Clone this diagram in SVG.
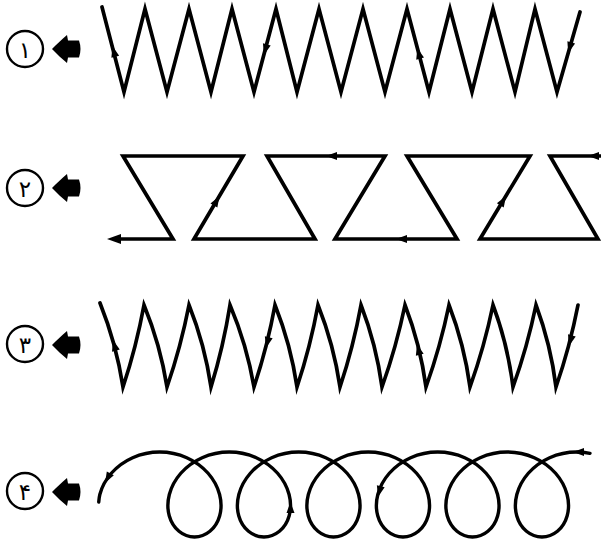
<svg xmlns="http://www.w3.org/2000/svg" xmlns:xlink="http://www.w3.org/1999/xlink" width="601" height="542" viewBox="0 0 601 542">
<style>
.ln{fill:none;stroke:#000;stroke-width:3.7;stroke-linejoin:miter;stroke-miterlimit:10;stroke-linecap:round}
.cir{fill:#fff;stroke:#000;stroke-width:2.4}
.dig{font-family:"DejaVu Sans",sans-serif;font-size:23px;text-anchor:middle;fill:#000}
</style>
<defs>
<path id="ah" d="M0,0 L-11,-4 L-11,4 Z"/>
<path id="ahb" d="M0,0 L-14,-5 L-14,5 Z"/>
<path id="blk" d="M0,0 C5,-5 10,-10 15,-14 L16,-8.5 L27,-8.5 Q30,0 27,8.5 L16,8.5 L15,14 C10,10 5,5 0,0 Z"/>
</defs>
<rect width="601" height="542" fill="#fff"/>

<g id="label-1">
<circle class="cir" cx="25" cy="49" r="18"/>
<text class="dig" x="25" y="57.5">۱</text>
<use xlink:href="#blk" transform="translate(52,49)"/>
</g>
<g id="label-2">
<circle class="cir" cx="25" cy="188" r="18"/>
<text class="dig" x="25" y="196.5">۲</text>
<use xlink:href="#blk" transform="translate(52,188)"/>
</g>
<g id="label-3">
<circle class="cir" cx="25" cy="344" r="18"/>
<text class="dig" x="25" y="352.5">۳</text>
<use xlink:href="#blk" transform="translate(52,345)"/>
</g>
<g id="label-4">
<circle class="cir" cx="25" cy="491" r="18"/>
<text class="dig" x="25" y="499.5">۴</text>
<use xlink:href="#blk" transform="translate(52,492)"/>
</g>

<g id="connectors">
<g id="pattern-1">
<path class="ln" d="M580,12 L557,92 L535,9 L515,92 L493,9 L472,92 L450,9 L429,92 L407,9 L385,92 L363,9 L341,92 L319,9 L297,92 L276,9 L254,92 L232,9 L211,92 L189,9 L167,92 L145,9 L124,92 L102,7"/>
<use xlink:href="#ah" transform="translate(112.5,46) rotate(-104.5)"/>
<use xlink:href="#ah" transform="translate(264,55) rotate(104.8)"/>
<use xlink:href="#ah" transform="translate(417.3,48) rotate(-104.8)"/>
<use xlink:href="#ah" transform="translate(568.2,53) rotate(106)"/>
</g>
<g id="pattern-2">
<path class="ln" d="M600,156 L550,156 L598,239 L480,239 L530,156 L407,156 L457,239 L335,239 L385,156 L267,156 L315,239 L194,239 L243,156 L123,156 L173,239 L118,239"/>
<use xlink:href="#ahb" transform="translate(107,239) rotate(180)"/>
<use xlink:href="#ah" transform="translate(588,156) rotate(180)"/>
<use xlink:href="#ah" transform="translate(506,196) rotate(-58.9)"/>
<use xlink:href="#ah" transform="translate(396,239) rotate(180)"/>
<use xlink:href="#ah" transform="translate(326,156) rotate(180)"/>
<use xlink:href="#ah" transform="translate(219.5,196) rotate(-59.4)"/>
</g>
<g id="pattern-3">
<path class="ln" d="M578,305 Q569.9,346.7 556,387 Q550.8,344.7 536,305 Q527.4,346.7 513,387 Q507.8,344.7 493,305 Q484.4,346.7 470,387 Q464.3,344.7 449,305 Q440.4,346.7 426,387 Q420.3,344.7 405,305 Q396.4,346.7 382,387 Q376.3,344.7 361,305 Q353.4,346.7 340,387 Q333.8,344.7 318,305 Q310.4,346.7 297,387 Q290.8,344.7 275,305 Q267.4,346.7 254,387 Q246.8,344.7 230,305 Q223.4,346.7 211,387 Q204.8,344.7 189,305 Q180.9,346.7 167,387 Q160.3,344.7 144,305 Q136.4,346.7 123,387 Q116.3,343.7 100,303"/>
<use xlink:href="#ah" transform="translate(113,340) rotate(-105.3)"/>
<use xlink:href="#ah" transform="translate(266,348) rotate(104.4)"/>
<use xlink:href="#ah" transform="translate(417,344) rotate(-104.4)"/>
<use xlink:href="#ah" transform="translate(569,346) rotate(105)"/>
</g>
<g id="pattern-4">
<path class="ln" style="stroke-width:3.4" d="M590,453.3 Q583,452 576.7,452
c-9.348,0 -18.687,1.985 -27.041,5.694 c-8.354,3.709 -15.709,9.132 -21.348,15.556 c-5.639,6.424 -9.554,13.832 -11.485,21.25 c-1.931,7.418 -1.876,14.826 -0.098,21.25 c1.778,6.424 5.272,11.847 9.765,15.556 c4.493,3.709 9.971,5.694 15.458,5.694 c5.487,0 10.966,-1.985 15.459,-5.694 c4.493,-3.709 7.986,-9.132 9.764,-15.556 c1.778,-6.424 1.834,-13.832 -0.097,-21.25 c-1.931,-7.418 -5.847,-14.826 -11.486,-21.25 c-5.639,-6.424 -12.993,-11.847 -21.347,-15.556 c-8.354,-3.709 -17.694,-5.694 -27.042,-5.694
c-9.348,0 -18.687,1.985 -27.041,5.694 c-8.354,3.709 -15.709,9.132 -21.348,15.556 c-5.639,6.424 -9.554,13.832 -11.485,21.25 c-1.931,7.418 -1.876,14.826 -0.098,21.25 c1.778,6.424 5.272,11.847 9.765,15.556 c4.493,3.709 9.971,5.694 15.458,5.694 c5.487,0 10.966,-1.985 15.459,-5.694 c4.493,-3.709 7.986,-9.132 9.764,-15.556 c1.778,-6.424 1.834,-13.832 -0.097,-21.25 c-1.931,-7.418 -5.847,-14.826 -11.486,-21.25 c-5.639,-6.424 -12.993,-11.847 -21.347,-15.556 c-8.354,-3.709 -17.694,-5.694 -27.042,-5.694
c-9.348,0 -18.687,1.985 -27.041,5.694 c-8.354,3.709 -15.709,9.132 -21.348,15.556 c-5.639,6.424 -9.554,13.832 -11.485,21.25 c-1.931,7.418 -1.876,14.826 -0.098,21.25 c1.778,6.424 5.272,11.847 9.765,15.556 c4.493,3.709 9.971,5.694 15.458,5.694 c5.487,0 10.966,-1.985 15.459,-5.694 c4.493,-3.709 7.986,-9.132 9.764,-15.556 c1.778,-6.424 1.834,-13.832 -0.097,-21.25 c-1.931,-7.418 -5.847,-14.826 -11.486,-21.25 c-5.639,-6.424 -12.993,-11.847 -21.347,-15.556 c-8.354,-3.709 -17.694,-5.694 -27.042,-5.694
c-9.348,0 -18.687,1.985 -27.041,5.694 c-8.354,3.709 -15.709,9.132 -21.348,15.556 c-5.639,6.424 -9.554,13.832 -11.485,21.25 c-1.931,7.418 -1.876,14.826 -0.098,21.25 c1.778,6.424 5.272,11.847 9.765,15.556 c4.493,3.709 9.971,5.694 15.458,5.694 c5.487,0 10.966,-1.985 15.459,-5.694 c4.493,-3.709 7.986,-9.132 9.764,-15.556 c1.778,-6.424 1.834,-13.832 -0.097,-21.25 c-1.931,-7.418 -5.847,-14.826 -11.486,-21.25 c-5.639,-6.424 -12.993,-11.847 -21.347,-15.556 c-8.354,-3.709 -17.694,-5.694 -27.042,-5.694
c-9.348,0 -18.687,1.985 -27.041,5.694 c-8.354,3.709 -15.709,9.132 -21.348,15.556 c-5.639,6.424 -9.554,13.832 -11.485,21.25 c-1.931,7.418 -1.876,14.826 -0.098,21.25 c1.778,6.424 5.272,11.847 9.765,15.556 c4.493,3.709 9.971,5.694 15.458,5.694 c5.487,0 10.966,-1.985 15.459,-5.694 c4.493,-3.709 7.986,-9.132 9.764,-15.556 c1.778,-6.424 1.834,-13.832 -0.097,-21.25 c-1.931,-7.418 -5.847,-14.826 -11.486,-21.25 c-5.639,-6.424 -12.993,-11.847 -21.347,-15.556 c-8.354,-3.709 -17.694,-5.694 -27.042,-5.694
c-9.348,0 -18.687,1.985 -27.041,5.694 c-8.354,3.709 -15.709,9.132 -21.348,15.556 c-5.639,6.424 -9.554,13.832 -11.485,21.25 c-1.931,7.418 -1.876,14.826 -0.098,21.25 c1.778,6.424 5.272,11.847 9.765,15.556 c4.493,3.709 9.971,5.694 15.458,5.694 c5.487,0 10.966,-1.985 15.459,-5.694 c4.493,-3.709 7.986,-9.132 9.764,-15.556 c1.778,-6.424 1.834,-13.832 -0.097,-21.25 c-1.931,-7.418 -5.847,-14.826 -11.486,-21.25 c-5.639,-6.424 -12.993,-11.847 -21.347,-15.556 c-8.354,-3.709 -17.694,-5.694 -27.042,-5.694
c-9.348,0 -18.687,1.985 -27.041,5.694 c-8.354,3.709 -15.709,9.132 -21.348,15.556 c-5.639,6.424 -9.554,13.832 -11.485,21.25 c-0.6,2.4 -0.9,5 -1.1,7.5"/>
<use xlink:href="#ah" transform="translate(573,452) rotate(180)"/>
<use xlink:href="#ah" transform="translate(290.5,502) rotate(-90)"/>
<use xlink:href="#ah" transform="translate(378,497) rotate(104.6)"/>
<use xlink:href="#ah" transform="translate(105,483) rotate(119)"/>
</g>
</g>
</svg>
